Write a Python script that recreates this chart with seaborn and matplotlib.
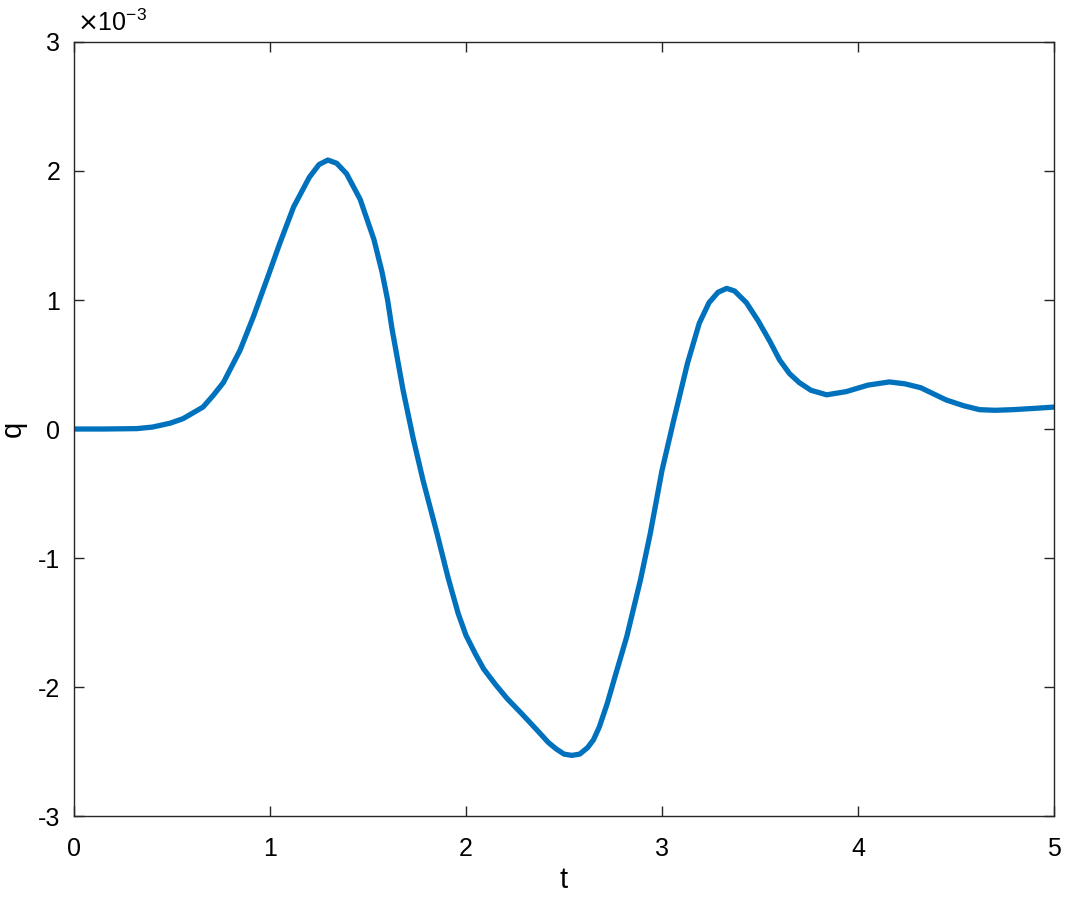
import matplotlib
matplotlib.use("Agg")
import matplotlib.pyplot as plt
import pandas as pd
import seaborn as sns

# response q(t), values in units of 1e-3
t = [0.0, 0.15, 0.32, 0.40, 0.49, 0.556, 0.658, 0.71, 0.762, 0.847, 0.915, 0.983,
     1.05, 1.12, 1.20, 1.25, 1.295, 1.34, 1.39, 1.46, 1.53, 1.571, 1.60, 1.622,
     1.679, 1.730, 1.781, 1.852, 1.908, 1.96, 2.00, 2.05, 2.09, 2.15, 2.21, 2.28,
     2.36, 2.42, 2.46, 2.50, 2.54, 2.58, 2.62, 2.65, 2.68, 2.72, 2.76, 2.82, 2.89,
     2.94, 3.00, 3.06, 3.13, 3.19, 3.24, 3.286, 3.33, 3.37, 3.43, 3.49, 3.55, 3.60,
     3.65, 3.70, 3.76, 3.84, 3.94, 4.05, 4.16, 4.24, 4.32, 4.45, 4.54, 4.62, 4.70,
     4.79, 4.90, 5.0]
q = [0.0, 0.0, 0.003, 0.015, 0.045, 0.08, 0.17, 0.26, 0.36, 0.61, 0.87, 1.155,
     1.44, 1.72, 1.95, 2.05, 2.085, 2.06, 1.98, 1.78, 1.47, 1.22, 1.00, 0.78,
     0.30, -0.07, -0.40, -0.81, -1.15, -1.43, -1.60, -1.75, -1.86, -1.98, -2.09, -2.20,
     -2.33, -2.43, -2.48, -2.52, -2.53, -2.52, -2.47, -2.41, -2.31, -2.13, -1.92, -1.61, -1.17,
     -0.81, -0.32, 0.07, 0.51, 0.82, 0.98, 1.06, 1.09, 1.07, 0.98, 0.84, 0.68, 0.535,
     0.43, 0.36, 0.30, 0.265, 0.29, 0.34, 0.365, 0.35, 0.32, 0.225, 0.18, 0.15, 0.145,
     0.15, 0.16, 0.17]

x_ticks = [0, 1, 2, 3, 4, 5]
y_ticks = [-3, -2, -1, 0, 1, 2, 3]

sns.set_style("white")
plt.rcParams['font.family'] = ['Liberation Sans', 'DejaVu Sans']
plt.rcParams['axes.unicode_minus'] = False

df = pd.DataFrame({"t": t, "q": q})

fig = plt.figure(figsize=(10.65, 9.07), dpi=100)
ax = fig.add_axes([0.0695, 0.1003, 0.9202, 0.8534])
sns.lineplot(data=df, x="t", y="q", ax=ax, color="#0072BD", linewidth=3.8)

ax.set_xlim(0, 5)
ax.set_ylim(-3, 3)
ax.set_xticks(x_ticks)
ax.set_yticks(y_ticks)
ax.tick_params(direction="in", length=7, width=1, color="#262626", labelcolor="black",
               labelsize=18, top=True, right=True, bottom=True, left=True)
ax.tick_params(axis="x", pad=15)
ax.tick_params(axis="y", pad=10)
for s in ax.spines.values():
    s.set_color("#262626")
    s.set_linewidth(1.0)
    s.set_visible(True)

ax.set_xlabel("t", fontsize=21, color="black", labelpad=4)
ax.set_ylabel("q", fontsize=21, color="black", labelpad=8)
ax.text(0.003, 1.008, r"$\times$10$^{\mathregular{-3}}$", transform=ax.transAxes,
        fontsize=18, color="black", ha="left", va="bottom")

fig.savefig("out.png", dpi=100)
